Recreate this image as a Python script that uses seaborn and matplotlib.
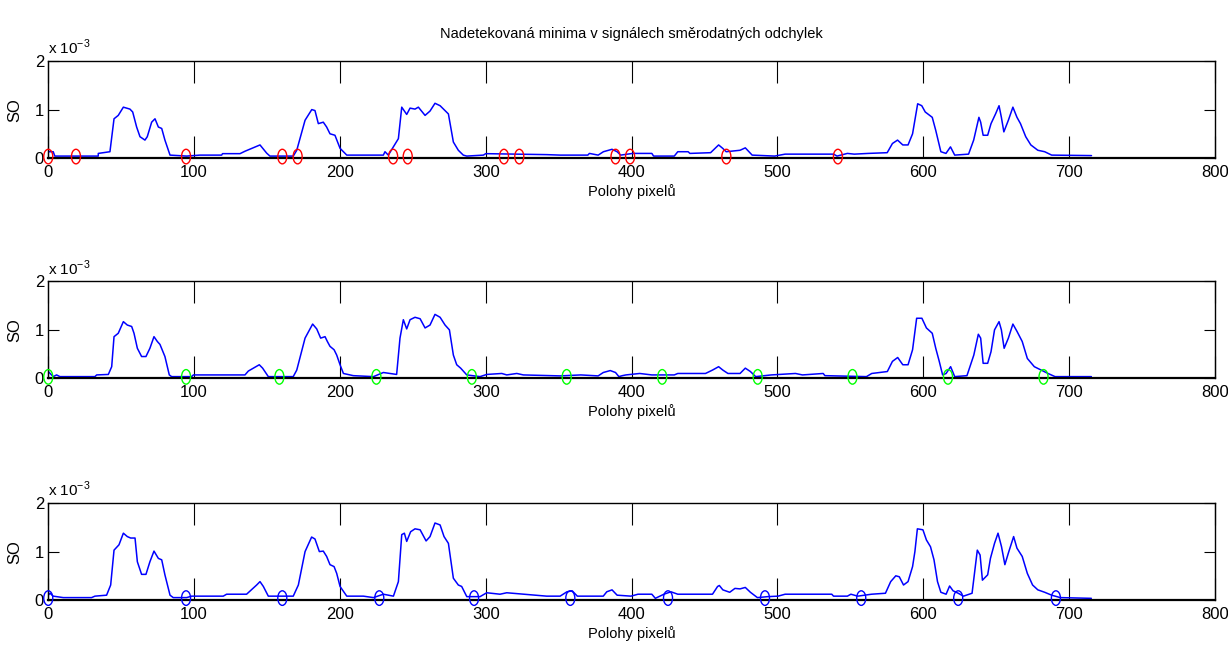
import numpy as np
import matplotlib
matplotlib.use('Agg')
import matplotlib.pyplot as plt
from matplotlib.path import Path
from matplotlib.transforms import Affine2D
import seaborn as sns

# signal values are in units of 1e-3 (axis shows "x 10^-3")
so1_x = [0, 3.4, 4.5, 34.3, 34.3, 42.3, 45.1, 48.0, 51.5, 56.0, 57.9, 60.6, 62.9, 66.3, 67.9,
         70.9, 73.2, 75.5, 77.8, 80.0, 83.5, 94.9, 104.0, 118.9, 119.5, 131.5, 134.9, 145.2,
         149.8, 152.0, 168.0, 170.4, 176.1, 180.7, 182.9, 185.2, 188.6, 190.9, 193.2, 196.6,
         200.1, 204.7, 213.8, 229.8, 230.9, 233.2, 240.1, 242.4, 245.8, 248.1, 251.5, 253.8,
         258.4, 261.8, 265.2, 268.7, 272.1, 274.4, 277.8, 281.2, 284.6, 287.0, 298.4, 300.0,
         341.8, 351.0, 370.0, 371.1, 377.1, 380.7, 386.6, 390.1, 392.5, 400.8, 413.9, 415.1,
         429.3, 431.7, 438.8, 440.0, 454.2, 456.6, 459.7, 462.5, 464.9, 474.4, 478.0, 482.7,
         498.1, 505.3, 538.5, 540.9, 548.0, 552.7, 562.3, 575.3, 578.9, 582.4, 586.0, 589.6,
         592.7, 594.3, 596.2, 599.0, 601.4, 606.2, 608.6, 612.1, 615.6, 618.7, 621.6, 631.1,
         634.6, 638.2, 639.4, 641.1, 644.2, 646.5, 649.6, 652.0, 653.6, 655.3, 658.4, 661.5,
         664.3, 666.7, 670.3, 673.8, 678.6, 683.3, 688.1, 715.4]
so1_y = [0.13, 0.13, 0.04, 0.04, 0.095, 0.13, 0.81, 0.88, 1.05, 1.01, 0.95, 0.64, 0.44, 0.37, 0.44,
         0.74, 0.81, 0.64, 0.61, 0.37, 0.06, 0.04, 0.06, 0.06, 0.09, 0.09, 0.14, 0.27,
         0.10, 0.04, 0.04, 0.16, 0.78, 1.00, 0.98, 0.71, 0.74, 0.64, 0.50, 0.47,
         0.20, 0.06, 0.06, 0.06, 0.13, 0.06, 0.40, 1.05, 0.90, 1.03, 1.01, 1.05,
         0.88, 0.97, 1.13, 1.08, 0.98, 0.91, 0.33, 0.16, 0.06, 0.04, 0.06, 0.09,
         0.07, 0.06, 0.06, 0.095, 0.06, 0.13, 0.18, 0.13, 0.06, 0.095, 0.095, 0.04,
         0.04, 0.13, 0.13, 0.095, 0.11, 0.18, 0.27, 0.20, 0.13, 0.16, 0.21, 0.06,
         0.04, 0.08, 0.08, 0.04, 0.095, 0.08, 0.095, 0.11, 0.30, 0.37, 0.27, 0.27,
         0.50, 0.78, 1.12, 1.08, 0.95, 0.84, 0.57, 0.13, 0.095, 0.23, 0.06, 0.08,
         0.37, 0.84, 0.74, 0.47, 0.47, 0.71, 0.91, 1.08, 0.84, 0.54, 0.78, 1.05,
         0.84, 0.71, 0.44, 0.27, 0.16, 0.13, 0.06, 0.05]

so2_x = [0, 3.4, 5.7, 8.0, 32.0, 33.2, 41.2, 43.5, 45.1, 48.0, 51.5, 54.2, 57.2, 58.8, 61.1,
         64.0, 67.0, 69.7, 72.5, 74.8, 76.6, 80.0, 83.0, 84.6, 98.3, 99.5, 134.9, 137.2, 144.7,
         147.0, 150.9, 168.0, 170.4, 176.1, 181.3, 184.1, 186.8, 189.8, 191.4, 193.2, 196.0,
         197.8, 200.1, 202.4, 209.2, 223.0, 229.8, 238.9, 241.2, 243.5, 245.8, 248.1, 251.5,
         255.0, 258.4, 261.8, 265.2, 268.7, 272.1, 275.1, 277.8, 280.1, 282.8, 287.0, 296.1,
         300.7, 311.0, 314.4, 321.3, 325.8, 351.0, 365.2, 377.1, 380.6, 385.4, 389.0, 391.3,
         393.7, 396.1, 405.6, 413.9, 429.3, 431.7, 450.7, 455.5, 459.7, 462.6, 466.1, 474.4,
         478.0, 481.5, 485.1, 495.8, 512.4, 517.2, 531.4, 532.6, 561.1, 564.7, 575.4, 578.9,
         582.5, 586.0, 589.6, 592.7, 595.5, 599.1, 602.2, 606.2, 608.6, 611.0, 613.3, 615.7,
         618.8, 621.6, 630.0, 634.7, 637.8, 639.4, 641.1, 644.2, 646.5, 648.9, 652.0, 653.6,
         655.5, 658.4, 661.5, 664.3, 667.9, 671.4, 676.2, 680.9, 685.6, 690.4, 715.3]
so2_y = [0.14, 0.035, 0.07, 0.035, 0.035, 0.07, 0.08, 0.24, 0.86, 0.93, 1.17, 1.10, 1.07, 0.93, 0.62,
         0.45, 0.45, 0.62, 0.86, 0.76, 0.70, 0.45, 0.07, 0.035, 0.035, 0.07, 0.07, 0.15, 0.28,
         0.21, 0.035, 0.035, 0.17, 0.83, 1.12, 1.02, 0.83, 0.86, 0.76, 0.66, 0.59,
         0.48, 0.28, 0.10, 0.055, 0.035, 0.12, 0.08, 0.83, 1.21, 1.02, 1.21, 1.26,
         1.23, 1.04, 1.10, 1.32, 1.26, 1.10, 1.00, 0.48, 0.28, 0.21, 0.07, 0.035,
         0.08, 0.10, 0.07, 0.10, 0.07, 0.05, 0.07, 0.05, 0.12, 0.16, 0.12, 0.035,
         0.055, 0.07, 0.10, 0.07, 0.07, 0.10, 0.10, 0.17, 0.24, 0.17, 0.10, 0.10,
         0.21, 0.14, 0.035, 0.07, 0.10, 0.07, 0.10, 0.055, 0.035, 0.10, 0.14, 0.35,
         0.43, 0.28, 0.28, 0.59, 1.24, 1.24, 1.04, 0.93, 0.62, 0.35, 0.07, 0.10,
         0.24, 0.035, 0.055, 0.48, 0.91, 0.83, 0.31, 0.31, 0.55, 1.00, 1.17, 1.00,
         0.62, 0.83, 1.12, 0.97, 0.76, 0.41, 0.24, 0.17, 0.10, 0.035, 0.035]

so3_x = [0, 1.2, 3.4, 10.3, 29.7, 32.0, 40.0, 42.8, 45.1, 48.5, 51.5, 54.2, 56.5, 59.5, 61.1,
         64.0, 67.0, 69.7, 72.5, 75.5, 77.8, 80.0, 83.5, 85.7, 94.9, 98.3, 120.0, 122.3, 136.0,
         142.9, 145.2, 147.5, 150.9, 168.0, 171.5, 176.1, 180.6, 182.9, 185.9, 188.6, 190.9,
         193.2, 196.0, 197.8, 200.1, 204.7, 216.1, 223.0, 229.8, 236.7, 240.1, 242.4, 244.2,
         245.8, 248.5, 251.5, 255.0, 259.1, 261.8, 265.2, 268.7, 271.4, 274.4, 277.8, 281.2,
         283.5, 287.0, 296.1, 300.7, 309.8, 314.4, 325.8, 341.8, 351.0, 355.7, 359.3, 362.8,
         380.6, 383.0, 386.6, 390.1, 399.6, 404.4, 413.9, 416.3, 422.2, 427.0, 431.7, 455.5,
         459.0, 460.2, 462.6, 467.3, 470.9, 474.4, 478.0, 481.5, 486.3, 493.4, 500.5, 505.3,
         537.3, 538.5, 548.0, 550.4, 555.1, 564.6, 574.1, 577.7, 581.2, 583.6, 586.5, 589.6,
         592.7, 594.3, 596.0, 599.8, 602.2, 605.0, 607.4, 609.8, 612.1, 615.7, 618.1, 620.5,
         624.0, 627.6, 633.5, 637.1, 639.0, 640.6, 644.2, 646.1, 648.9, 651.3, 653.7, 656.0,
         658.4, 662.0, 664.3, 667.9, 671.4, 675.0, 678.6, 683.3, 688.1, 694.0, 715.3]
so3_y = [0.10, 0.14, 0.08, 0.05, 0.05, 0.08, 0.10, 0.31, 1.03, 1.14, 1.38, 1.31, 1.28, 1.28, 0.79,
         0.53, 0.53, 0.79, 1.01, 0.86, 0.83, 0.52, 0.10, 0.05, 0.05, 0.08, 0.08, 0.12, 0.12,
         0.31, 0.38, 0.28, 0.08, 0.08, 0.31, 1.00, 1.30, 1.26, 1.00, 1.01, 0.90,
         0.73, 0.69, 0.55, 0.28, 0.08, 0.08, 0.05, 0.12, 0.08, 0.38, 1.35, 1.38,
         1.21, 1.41, 1.47, 1.45, 1.22, 1.31, 1.59, 1.55, 1.31, 1.17, 0.45, 0.31,
         0.28, 0.07, 0.07, 0.15, 0.12, 0.15, 0.12, 0.08, 0.08, 0.17, 0.19, 0.08,
         0.08, 0.17, 0.21, 0.10, 0.08, 0.12, 0.12, 0.035, 0.12, 0.17, 0.12, 0.12,
         0.28, 0.30, 0.21, 0.16, 0.24, 0.23, 0.26, 0.16, 0.05, 0.07, 0.08, 0.12,
         0.12, 0.08, 0.08, 0.12, 0.08, 0.12, 0.14, 0.38, 0.50, 0.48, 0.31, 0.38,
         0.69, 1.00, 1.47, 1.45, 1.24, 1.10, 0.83, 0.38, 0.16, 0.12, 0.29, 0.19,
         0.14, 0.08, 0.14, 1.03, 0.93, 0.41, 0.52, 0.86, 1.17, 1.38, 1.10, 0.73,
         0.97, 1.31, 1.07, 0.90, 0.55, 0.31, 0.21, 0.16, 0.10, 0.05, 0.035]

# detected minima
min1_x = [0, 19, 94.5, 160.5, 171, 236.5, 246.5, 312.5, 323, 389, 399, 465, 541.5]
min1_y = [0.03, 0.03, 0.03, 0.03, 0.03, 0.03, 0.03, 0.03, 0.03, 0.03, 0.03, 0.03, 0.03]
min2_x = [0, 94.5, 158.5, 225, 290.5, 355.5, 421, 486.5, 551.5, 617, 682.5]
min2_y = [0.03, 0.03, 0.03, 0.03, 0.03, 0.03, 0.03, 0.03, 0.03, 0.03, 0.03]
min3_x = [0, 94.5, 160.5, 227, 292, 358, 425, 491.5, 557.5, 624, 691]
min3_y = [0.04, 0.04, 0.04, 0.04, 0.04, 0.04, 0.04, 0.04, 0.04, 0.04, 0.04]

title = 'Nadetekovaná minima v signálech směrodatných odchylek'
x_label = 'Polohy pixelů'
y_label = 'SO'
x_ticks = [0, 100, 200, 300, 400, 500, 600, 700, 800]
y_ticks = [0, 1, 2]

sns.set_style('white')
plt.rcParams['font.family'] = ['Liberation Sans', 'DejaVu Sans']
plt.rcParams['mathtext.fontset'] = 'custom'
plt.rcParams['mathtext.rm'] = 'Liberation Sans'
plt.rcParams['text.color'] = 'black'
plt.rcParams['axes.labelcolor'] = 'black'

fig = plt.figure(figsize=(12.28, 6.69), dpi=100)
left, width, height = 0.0393, 0.9500, 0.1448
bottoms = [0.7638, 0.4345, 0.1031]

# tall open circle, like the stretched matlab markers
ellipse = Path.unit_circle().transformed(Affine2D().scale(0.62, 1.0))

panels = [(so1_x, so1_y, min1_x, min1_y, (1, 0, 0)),
          (so2_x, so2_y, min2_x, min2_y, (0, 1, 0)),
          (so3_x, so3_y, min3_x, min3_y, (0, 0, 1))]

for i, (sx, sy, mx, my, mcol) in enumerate(panels):
    ax = fig.add_axes([left, bottoms[i], width, height])
    sns.lineplot(x=sx, y=sy, ax=ax, color=(0, 0, 1), linewidth=1.1, estimator=None)
    sns.scatterplot(x=mx, y=my, ax=ax, marker=ellipse, s=110, color=mcol,
                    facecolor='none', edgecolor=mcol, linewidth=1.0, zorder=3, clip_on=False)
    ax.set_xlim(0, 800)
    ax.set_ylim(0, 2)
    ax.set_xticks(x_ticks)
    ax.set_yticks(y_ticks)
    ax.tick_params(axis='x', direction='in', length=16, width=0.8, top=True, bottom=True,
                   labelsize=12, pad=5, colors='black')
    ax.tick_params(axis='y', direction='in', length=8, width=0.8, left=True, right=True,
                   labelsize=12, pad=3, colors='black')
    for side in ['top', 'right', 'left']:
        ax.spines[side].set_color('black')
        ax.spines[side].set_linewidth(1.0)
    ax.spines['bottom'].set_color('black')
    ax.spines['bottom'].set_linewidth(1.6)
    ax.set_xlabel(x_label, fontsize=10.5, labelpad=3)
    ax.set_ylabel(y_label, fontsize=12, labelpad=9)
    ax.text(0.0, 1.04, r'x 10$^{\mathregular{-3}}$', transform=ax.transAxes,
            ha='left', va='bottom', fontsize=11)
    if i == 0:
        ax.set_title(title, fontsize=10.5, pad=17)

fig.savefig('out.png', dpi=100)
